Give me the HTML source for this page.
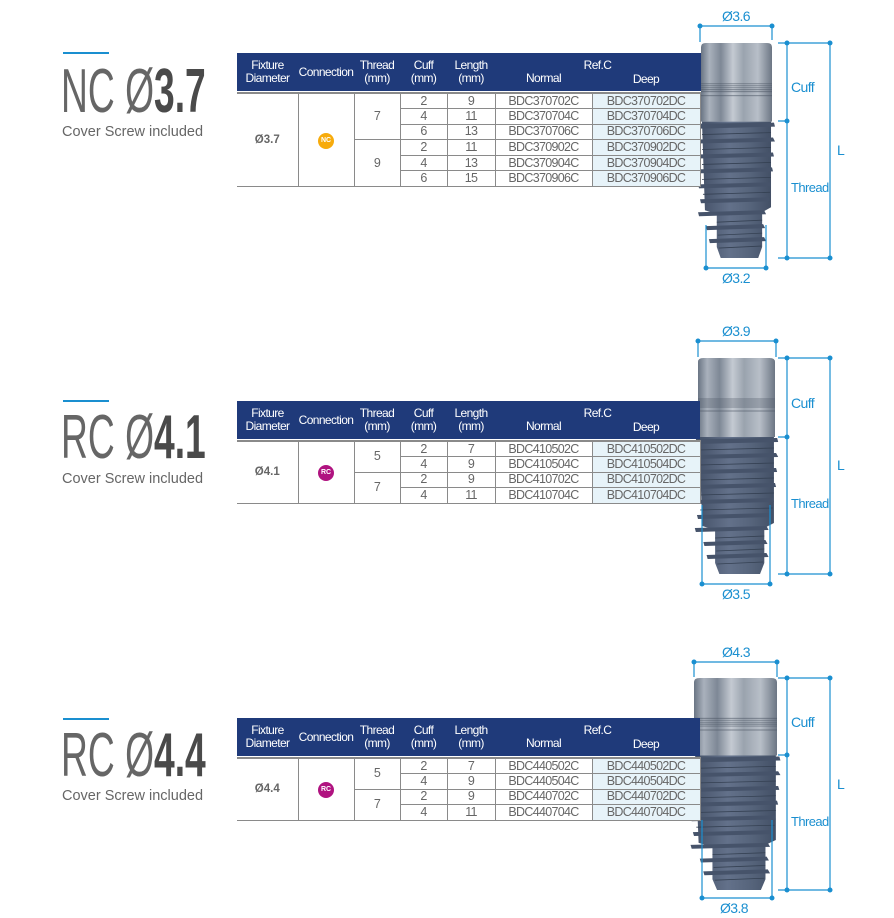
<!DOCTYPE html>
<html><head><meta charset="utf-8"><style>
body{margin:0;width:894px;height:918px;background:#fff;position:relative;overflow:hidden;font-family:"Liberation Sans",sans-serif;}
.ab{position:absolute}
.bar{position:absolute;height:2px;width:46px;background:#1a8fd0;left:63px}
.title{position:absolute;left:61px;font-size:62px;color:#555;line-height:1;white-space:nowrap;transform:scaleX(.6);transform-origin:0 0}
.title .t{font-weight:400;color:#666}
.title b{font-weight:700;color:#4a4a4a}
.sub{position:absolute;left:62px;font-size:14.5px;color:#666}
.hd{position:absolute;left:237px;width:463px;height:38px;background:#1f3a7a;color:#fff;font-size:12px;line-height:13px;letter-spacing:-.6px}
.hd div{position:absolute;text-align:center}
table{position:absolute;left:237px;width:463px;border-collapse:collapse;table-layout:fixed;font-size:12.5px;color:#666;border-top:2px solid #8a8a8a;letter-spacing:-.7px}
td{border:1px solid #8a8a8a;padding:0;text-align:center;line-height:13px;overflow:hidden;white-space:nowrap}
td:first-child{border-left:none}
td.dp{background:#e7f3f9}
td.d{font-weight:700;font-size:11.5px;color:#666;letter-spacing:0}
.bd{display:inline-block;width:16px;height:16px;border-radius:50%;color:#fff;font-weight:700;font-size:7px;line-height:16px;text-align:center;letter-spacing:0}
.lbl{position:absolute;color:#1a8fd0;font-size:14px;white-space:nowrap;letter-spacing:-.6px}
</style></head><body>
<svg class="ab" style="left:0;top:0" width="894" height="918">
<defs>
<linearGradient id="cg" x1="0" x2="1" y1="0" y2="0">
<stop offset="0" stop-color="#6a7584"/><stop offset=".12" stop-color="#a9b1bc"/><stop offset=".28" stop-color="#7e8896"/><stop offset=".45" stop-color="#c4cad2"/><stop offset=".6" stop-color="#9aa3ae"/><stop offset=".8" stop-color="#b8bfc8"/><stop offset="1" stop-color="#6c7684"/>
</linearGradient>
<linearGradient id="tg" x1="0" x2="1" y1="0" y2="0">
<stop offset="0" stop-color="#46536a"/><stop offset=".4" stop-color="#63718a"/><stop offset=".7" stop-color="#56647b"/><stop offset="1" stop-color="#435066"/>
</linearGradient>
<symbol id="imp" viewBox="0 0 72 216" preserveAspectRatio="none" overflow="visible">
<path d="M0 4 Q0 0 5 0 H67 Q72 0 72 4 V79 H0Z" fill="url(#cg)"/>
<g stroke="#4c5664" stroke-width=".7" opacity=".8"><line x1="0" y1="41" x2="72" y2="41"/><line x1="0" y1="43" x2="72" y2="43"/><line x1="0" y1="45" x2="72" y2="45"/><line x1="0" y1="47" x2="72" y2="47"/><line x1="0" y1="49" x2="72" y2="49"/><line x1="0" y1="53" x2="72" y2="53"/></g>
<path d="M1 79 H71 V165 L62 170 V205 L58 216 H20 L16 205 V172 L4 168 Z" fill="url(#tg)"/>
<g fill="#46536a">
<path d="M-2 81 L74 80 L75 84 L-1 86Z"/><path d="M-4 97 L73 95 L75 99 L-3 101Z"/><path d="M-4 112 L73 110 L74 114 L-3 116Z"/><path d="M-4 127 L72 125 L73 129 L-3 131Z"/><path d="M-3 142 L70 140 L71 144 L-2 146Z"/><path d="M-1 157 L69 155 L69 159 L0 161Z"/>
<path d="M-3 170 L64 168 L66 172 L-2 174Z"/><path d="M5 184 L63 182 L65 186 L6 188Z"/><path d="M8 197 L64 195 L66 199 L9 201Z"/>
</g>
<g stroke="#354153" stroke-width=".8"><line x1="1" y1="92" x2="71" y2="90"/><line x1="1" y1="107" x2="71" y2="105"/><line x1="1" y1="122" x2="71" y2="120"/><line x1="1" y1="137" x2="71" y2="135"/><line x1="2" y1="152" x2="70" y2="150"/><line x1="16" y1="180" x2="62" y2="178"/><line x1="17" y1="193" x2="62" y2="191"/><line x1="18" y1="206" x2="61" y2="204"/></g>
</symbol>
</defs>
<g fill="#1f3a7a"><rect x="237" y="53" width="470" height="38"/><rect x="237" y="401" width="470" height="38"/><rect x="237" y="718" width="470" height="38"/></g>
<use href="#imp" x="701" y="43" width="71" height="215"/>
<use href="#imp" x="698" y="358" width="77" height="216"/>
<use href="#imp" x="694" y="678" width="83" height="212"/>
<g stroke="#1a8fd0" stroke-width="1.2" fill="none">
<path d="M700 26H772M700 26V42M772 26V40M778 43H830M787 43V258M830 43V258M778 121H787M778 258H830M706 268H766M706 268V225M766 268V225"/>
<path d="M698 341H776M698 341V357M776 341V357M778 358H830M787 358V574M830 358V574M778 437H787M778 574H830M702 584H770M702 584V505M770 584V505"/>
<path d="M694 662H777M694 662V677M777 662V677M778 678H830M787 678V890M830 678V890M778 755H787M778 890H830M702 898H772M702 898V820M772 898V820"/>
</g>
<g fill="#1a8fd0">
<circle cx="700" cy="26" r="2.5"/><circle cx="772" cy="26" r="2.5"/><circle cx="787" cy="43" r="2.5"/><circle cx="830" cy="43" r="2.5"/><circle cx="787" cy="121" r="2.5"/><circle cx="787" cy="258" r="2.5"/><circle cx="830" cy="258" r="2.5"/><circle cx="706" cy="268" r="2.5"/><circle cx="766" cy="268" r="2.5"/>
<circle cx="698" cy="341" r="2.5"/><circle cx="776" cy="341" r="2.5"/><circle cx="787" cy="358" r="2.5"/><circle cx="830" cy="358" r="2.5"/><circle cx="787" cy="437" r="2.5"/><circle cx="787" cy="574" r="2.5"/><circle cx="830" cy="574" r="2.5"/><circle cx="702" cy="584" r="2.5"/><circle cx="770" cy="584" r="2.5"/>
<circle cx="694" cy="662" r="2.5"/><circle cx="777" cy="662" r="2.5"/><circle cx="787" cy="678" r="2.5"/><circle cx="830" cy="678" r="2.5"/><circle cx="787" cy="755" r="2.5"/><circle cx="787" cy="890" r="2.5"/><circle cx="830" cy="890" r="2.5"/><circle cx="702" cy="898" r="2.5"/><circle cx="772" cy="898" r="2.5"/>
</g>
</svg>

<div class="lbl" style="left:722px;top:8px">Ø3.6</div><div class="lbl" style="left:791px;top:79px">Cuff</div><div class="lbl" style="left:791px;top:180px;font-size:13px">Thread</div><div class="lbl" style="left:837px;top:142px">L</div><div class="lbl" style="left:722px;top:270px">Ø3.2</div>
<div class="lbl" style="left:722px;top:323px">Ø3.9</div><div class="lbl" style="left:791px;top:395px">Cuff</div><div class="lbl" style="left:791px;top:496px;font-size:13px">Thread</div><div class="lbl" style="left:837px;top:457px">L</div><div class="lbl" style="left:722px;top:586px">Ø3.5</div>
<div class="lbl" style="left:722px;top:644px">Ø4.3</div><div class="lbl" style="left:791px;top:714px">Cuff</div><div class="lbl" style="left:791px;top:814px;font-size:13px">Thread</div><div class="lbl" style="left:837px;top:776px">L</div><div class="lbl" style="left:720px;top:900px">Ø3.8</div>

<div class="bar" style="top:52px"></div>
<div class="title" style="top:61px"><span class="t">NC Ø</span><b>3.7</b></div>
<div class="sub" style="top:124px">Cover Screw included</div>
<div class="bar" style="top:400px"></div>
<div class="title" style="top:407px"><span class="t">RC Ø</span><b>4.1</b></div>
<div class="sub" style="top:471px">Cover Screw included</div>
<div class="bar" style="top:718px"></div>
<div class="title" style="top:725px"><span class="t">RC Ø</span><b>4.4</b></div>
<div class="sub" style="top:788px">Cover Screw included</div>

<div class="hd" style="top:53px">
<div style="left:0;width:61px;top:6px">Fixture<br>Diameter</div><div style="left:61px;width:56px;top:13px">Connection</div><div style="left:117px;width:46px;top:6px">Thread<br>(mm)</div><div style="left:163px;width:47px;top:6px">Cuff<br>(mm)</div><div style="left:210px;width:48px;top:6px">Length<br>(mm)</div><div style="left:258px;width:205px;top:6px">Ref.C</div><div style="left:258px;width:97px;top:19px">Normal</div><div style="left:355px;width:108px;top:20px">Deep</div>
</div>
<div class="hd" style="top:401px">
<div style="left:0;width:61px;top:6px">Fixture<br>Diameter</div><div style="left:61px;width:56px;top:13px">Connection</div><div style="left:117px;width:46px;top:6px">Thread<br>(mm)</div><div style="left:163px;width:47px;top:6px">Cuff<br>(mm)</div><div style="left:210px;width:48px;top:6px">Length<br>(mm)</div><div style="left:258px;width:205px;top:6px">Ref.C</div><div style="left:258px;width:97px;top:19px">Normal</div><div style="left:355px;width:108px;top:20px">Deep</div>
</div>
<div class="hd" style="top:718px">
<div style="left:0;width:61px;top:6px">Fixture<br>Diameter</div><div style="left:61px;width:56px;top:13px">Connection</div><div style="left:117px;width:46px;top:6px">Thread<br>(mm)</div><div style="left:163px;width:47px;top:6px">Cuff<br>(mm)</div><div style="left:210px;width:48px;top:6px">Length<br>(mm)</div><div style="left:258px;width:205px;top:6px">Ref.C</div><div style="left:258px;width:97px;top:19px">Normal</div><div style="left:355px;width:108px;top:20px">Deep</div>
</div>

<table style="top:92px">
<colgroup><col style="width:61px"><col style="width:56px"><col style="width:46px"><col style="width:47px"><col style="width:48px"><col style="width:97px"><col style="width:108px"></colgroup>
<tr style="height:15.6px"><td class="d" rowspan="6">Ø3.7</td><td rowspan="6"><span class="bd" style="background:#f7ab0c">NC</span></td><td rowspan="3">7</td><td>2</td><td>9</td><td>BDC370702C</td><td class="dp">BDC370702DC</td></tr>
<tr style="height:15.6px"><td>4</td><td>11</td><td>BDC370704C</td><td class="dp">BDC370704DC</td></tr>
<tr style="height:15.6px"><td>6</td><td>13</td><td>BDC370706C</td><td class="dp">BDC370706DC</td></tr>
<tr style="height:15.6px"><td rowspan="3">9</td><td>2</td><td>11</td><td>BDC370902C</td><td class="dp">BDC370902DC</td></tr>
<tr style="height:15.6px"><td>4</td><td>13</td><td>BDC370904C</td><td class="dp">BDC370904DC</td></tr>
<tr style="height:15.6px"><td>6</td><td>15</td><td>BDC370906C</td><td class="dp">BDC370906DC</td></tr>
</table>

<table style="top:440px">
<colgroup><col style="width:61px"><col style="width:56px"><col style="width:46px"><col style="width:47px"><col style="width:48px"><col style="width:97px"><col style="width:108px"></colgroup>
<tr style="height:15.6px"><td class="d" rowspan="4">Ø4.1</td><td rowspan="4"><span class="bd" style="background:#b01380">RC</span></td><td rowspan="2">5</td><td>2</td><td>7</td><td>BDC410502C</td><td class="dp">BDC410502DC</td></tr>
<tr style="height:15.6px"><td>4</td><td>9</td><td>BDC410504C</td><td class="dp">BDC410504DC</td></tr>
<tr style="height:15.6px"><td rowspan="2">7</td><td>2</td><td>9</td><td>BDC410702C</td><td class="dp">BDC410702DC</td></tr>
<tr style="height:15.6px"><td>4</td><td>11</td><td>BDC410704C</td><td class="dp">BDC410704DC</td></tr>
</table>

<table style="top:757px">
<colgroup><col style="width:61px"><col style="width:56px"><col style="width:46px"><col style="width:47px"><col style="width:48px"><col style="width:97px"><col style="width:108px"></colgroup>
<tr style="height:15.6px"><td class="d" rowspan="4">Ø4.4</td><td rowspan="4"><span class="bd" style="background:#b01380">RC</span></td><td rowspan="2">5</td><td>2</td><td>7</td><td>BDC440502C</td><td class="dp">BDC440502DC</td></tr>
<tr style="height:15.6px"><td>4</td><td>9</td><td>BDC440504C</td><td class="dp">BDC440504DC</td></tr>
<tr style="height:15.6px"><td rowspan="2">7</td><td>2</td><td>9</td><td>BDC440702C</td><td class="dp">BDC440702DC</td></tr>
<tr style="height:15.6px"><td>4</td><td>11</td><td>BDC440704C</td><td class="dp">BDC440704DC</td></tr>
</table>
</body></html>
